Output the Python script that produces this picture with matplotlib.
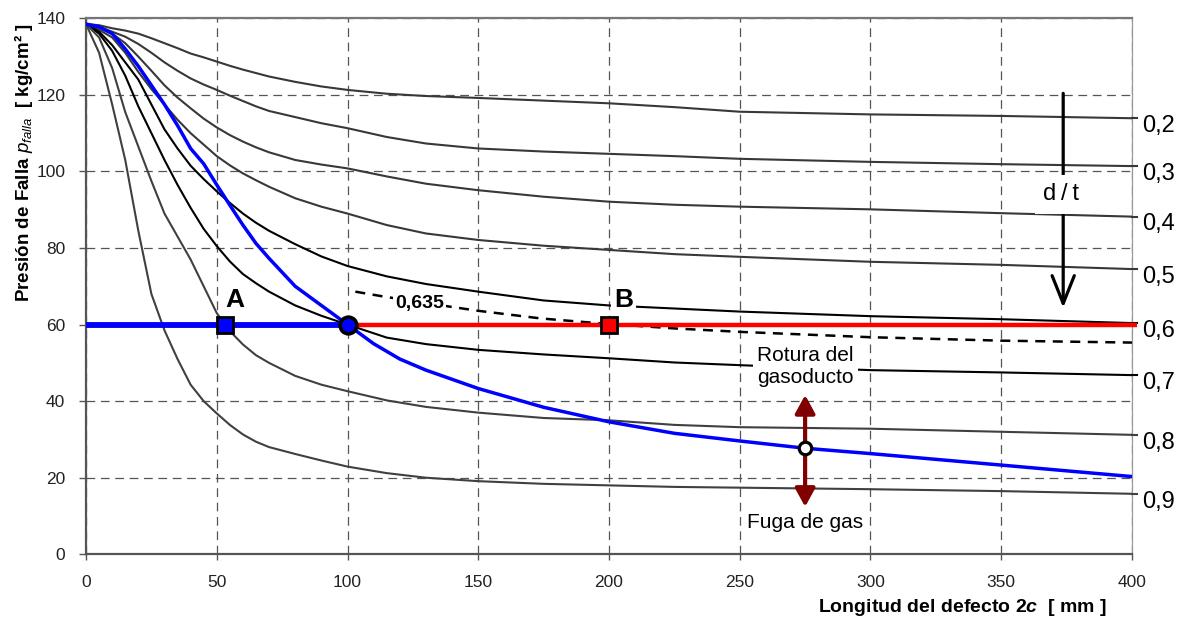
import matplotlib
matplotlib.use('Agg')
import matplotlib.pyplot as plt
from matplotlib.patches import FancyArrowPatch, ArrowStyle

# ---------------- data ----------------
X = [0, 5, 10, 15, 20, 25, 30, 35, 40, 45, 50, 55, 60, 65, 70, 80, 90, 100,
     115, 130, 150, 175, 200, 225, 250, 300, 350, 400]

c02 = [138.5, 138.2, 137.4, 136.8, 136.0, 134.8, 133.5, 132.2, 130.8, 129.8, 128.7, 127.6, 126.6, 125.7,
       124.8, 123.4, 122.2, 121.3, 120.3, 119.7, 119.2, 118.5, 117.8, 116.8, 115.6, 114.9, 114.5, 113.9]
c03 = [138.5, 137.8, 136.5, 135.2, 133.3, 131.0, 128.5, 126.3, 124.3, 122.7, 121.3, 119.8, 118.4, 117.0,
       115.8, 114.2, 112.6, 111.3, 109.0, 107.3, 106.0, 105.2, 104.6, 104.0, 103.3, 102.5, 101.9, 101.4]
c04 = [138.5, 137.5, 136.0, 133.5, 130.0, 126.3, 122.5, 119.3, 116.5, 113.8, 111.5, 109.5, 107.8, 106.3,
       105.0, 103.0, 101.8, 100.8, 98.7, 96.8, 95.1, 93.4, 92.1, 91.3, 90.8, 90.1, 89.1, 88.2]
c05 = [138.5, 137.0, 135.0, 131.0, 126.0, 121.5, 117.5, 113.5, 110.0, 107.0, 104.0, 101.6, 99.5, 97.7,
       96.0, 93.0, 90.8, 89.0, 86.0, 83.8, 82.1, 80.6, 79.5, 78.4, 77.7, 76.4, 75.6, 74.5]
c06 = [138.5, 136.5, 133.0, 128.5, 124.0, 117.5, 111.0, 106.0, 101.5, 98.0, 94.8, 91.8, 89.0, 86.6,
       84.5, 81.0, 77.8, 75.3, 72.6, 70.6, 68.6, 66.3, 65.0, 64.2, 63.4, 62.2, 61.4, 60.4]
c07 = [138.5, 136.0, 131.5, 125.0, 117.0, 110.0, 103.0, 96.5, 90.5, 85.0, 80.5, 76.5, 73.2, 70.8,
       68.6, 65.0, 62.3, 60.0, 56.6, 54.9, 53.4, 52.2, 51.2, 50.1, 49.4, 48.1, 47.5, 46.8]
c08 = [138.5, 135.0, 127.0, 115.5, 106.5, 97.5, 89.0, 83.0, 77.0, 70.0, 63.0, 58.3, 54.8, 52.0,
       50.0, 46.6, 44.3, 42.6, 40.2, 38.5, 37.0, 35.6, 35.0, 33.8, 33.2, 32.8, 32.0, 31.2]
c09 = [138.5, 131.0, 117.5, 103.0, 84.5, 68.0, 58.5, 51.0, 44.3, 40.0, 36.8, 33.8, 31.3, 29.4,
       28.0, 26.2, 24.5, 22.9, 21.2, 20.0, 19.1, 18.4, 18.0, 17.6, 17.4, 17.0, 16.5, 15.8]

ratio_labels = ['0,2', '0,3', '0,4', '0,5', '0,6', '0,7', '0,8', '0,9']
ratio_curves = [c02, c03, c04, c05, c06, c07, c08, c09]

# critical (leak / rupture) curve
XB = [0, 5, 10, 15, 20, 25, 30, 35, 40, 45, 50, 55, 60, 65, 70, 80, 90, 100, 110, 120, 130,
      150, 175, 200, 225, 250, 275, 300, 350, 400]
YB = [138.5, 137.8, 136.0, 132.0, 127.5, 122.5, 117.5, 112.0, 106.0, 102.0, 96.5, 91.2, 86.0, 81.2,
      77.3, 70.0, 65.0, 60.0, 55.0, 51.0, 48.1, 43.3, 38.4, 34.6, 31.6, 29.6, 27.7, 26.3, 23.3, 20.3]

# d/t = 0,635 dashed curve
XD = [103, 114, 139, 150, 174, 197, 225, 250, 300, 350, 400]
YD = [68.6, 67.3, 64.7, 63.6, 61.6, 60.3, 59.0, 58.1, 56.7, 55.8, 55.3]

P_OP = 60           # operating pressure line
X_C = 100           # intersection point
PT_A = (53, 60)
PT_B = (200, 60)
PT_LEAK = (275, 27.7)

# ---------------- style ----------------
plt.rcParams['font.family'] = ['Liberation Sans', 'DejaVu Sans']
plt.rcParams['mathtext.fontset'] = 'custom'
plt.rcParams['mathtext.rm'] = 'Liberation Sans'
plt.rcParams['mathtext.it'] = 'Liberation Sans:italic'
plt.rcParams['mathtext.bf'] = 'Liberation Sans:bold'
try:
    plt.rcParams['mathtext.bfit'] = 'Liberation Sans:italic:bold'
except Exception:
    pass

fig = plt.figure(figsize=(11.8, 6.23), dpi=100)
ax = fig.add_axes([0.0729, 0.1103, 0.8864, 0.8603])
ax.set_xlim(0, 400)
ax.set_ylim(0, 140)
ax.set_xticks(range(0, 401, 50))
ax.set_yticks(range(0, 141, 20))
ax.grid(True, ls=(0, (7, 4.5)), color='#555555', lw=0.9, zorder=0)
ax.set_axisbelow(True)

for side, col, lw in [('left', '#555555', 1.6), ('bottom', '#555555', 1.6),
                      ('top', '#777777', 1.6), ('right', '#999999', 0.9)]:
    ax.spines[side].set_color(col)
    ax.spines[side].set_linewidth(lw)

ax.tick_params(axis='both', direction='out', color='#555555', width=1,
               labelsize=12.5, labelcolor='#222222')
ax.tick_params(axis='y', length=5, pad=10)
ax.tick_params(axis='x', length=4, pad=11)

X_END = 402
curve_colors = ['#383838', '#383838', '#383838', '#383838', '#000000', '#000000', '#404040', '#404040']
for lab, ys, col in zip(ratio_labels, ratio_curves, curve_colors):
    ax.plot(X, ys, color=col, lw=1.5, zorder=3, solid_capstyle='butt')
    ax.plot([X[-1], X_END], [ys[-1], ys[-1]], color=col, lw=1.5, zorder=3, clip_on=False)
    ax.text(404, ys[-1] - 3.6, lab, fontsize=17, ha='left', va='baseline', color='black')

# dashed 0,635
ax.plot(XD, YD, color='black', lw=1.8, ls=(0, (4, 3)), zorder=3)
ax.text(127.5, 65.6, '0,635', fontsize=14, fontweight='bold', ha='center', va='center',
        zorder=4, bbox=dict(boxstyle='square,pad=0.1', fc='white', ec='none'))

# critical curve (blue)
ax.plot(XB, YB, color='#0000ff', lw=2.5, zorder=5)

# operating pressure line
ax.plot([0, X_END], [P_OP, P_OP], color='#ff0000', lw=3.2, zorder=6, clip_on=False,
        solid_capstyle='butt')
ax.plot([0, X_C], [P_OP, P_OP], color='#0000ff', lw=4.2, zorder=6.5, solid_capstyle='butt')

# markers
ax.plot(*PT_A, marker='s', ms=11, mfc='#0000ff', mec='black', mew=2, zorder=8)
ax.plot(X_C, P_OP, marker='o', ms=12, mfc='#0000ff', mec='black', mew=2.6, zorder=8)
ax.plot(*PT_B, marker='s', ms=11, mfc='#ff0000', mec='black', mew=2, zorder=8)

ax.text(57, 66.5, 'A', fontsize=19, fontweight='bold', ha='center', va='center', zorder=8)
ax.text(205.5, 66.5, 'B', fontsize=19, fontweight='bold', ha='center', va='center', zorder=8,
        bbox=dict(boxstyle='square,pad=0.12', fc='white', ec='none'))

# leak / rupture double arrow
dark_red = '#800000'
arr = FancyArrowPatch((PT_LEAK[0], 41.6), (PT_LEAK[0], 12.4),
                      arrowstyle=ArrowStyle('<|-|>', head_length=0.55, head_width=0.3),
                      mutation_scale=20, lw=3, color=dark_red, shrinkA=0, shrinkB=0, zorder=7)
ax.add_patch(arr)
ax.plot(*PT_LEAK, marker='o', ms=9, mfc='white', mec='black', mew=2.3, zorder=9)

ax.text(275, 49.0, 'Rotura del\ngasoducto', fontsize=15, ha='center', va='center',
        linespacing=1.2, zorder=6.8,
        bbox=dict(boxstyle='square,pad=0.2', fc='white', ec='none'))
ax.text(275, 8.3, 'Fuga de gas', fontsize=15, ha='center', va='center', zorder=7)

# d/t arrow
arr2 = FancyArrowPatch((373.7, 120.4), (373.7, 64.4),
                       arrowstyle=ArrowStyle('->', head_length=1.0, head_width=0.4),
                       mutation_scale=20, lw=2.3, color='black', shrinkA=0, shrinkB=0, zorder=7)
ax.add_patch(arr2)
ax.text(373, 94.0, 'd\u2009/\u2009t', fontsize=17, ha='center', va='center', zorder=7.5,
        bbox=dict(boxstyle='square,pad=0.35', fc='white', ec='none'))

# axis labels
try:
    xl = r'Longitud del defecto 2$\mathbfit{c}$  [ mm ]'
    ax.set_xlabel(xl, fontsize=14, fontweight='bold')
    fig.canvas.draw()
except Exception:
    ax.set_xlabel(r'Longitud del defecto 2$\mathit{c}$  [ mm ]', fontsize=14, fontweight='bold')
ax.xaxis.set_label_coords(0.838, -0.1)
ax.xaxis.label.set_verticalalignment('center')

ax.set_ylabel(r'Presión de Falla $p_{falla}$  [ kg/cm² ]', fontsize=13.5, fontweight='bold')
ax.yaxis.set_label_coords(-0.049, 0.73)

fig.savefig('out.png', dpi=100)
